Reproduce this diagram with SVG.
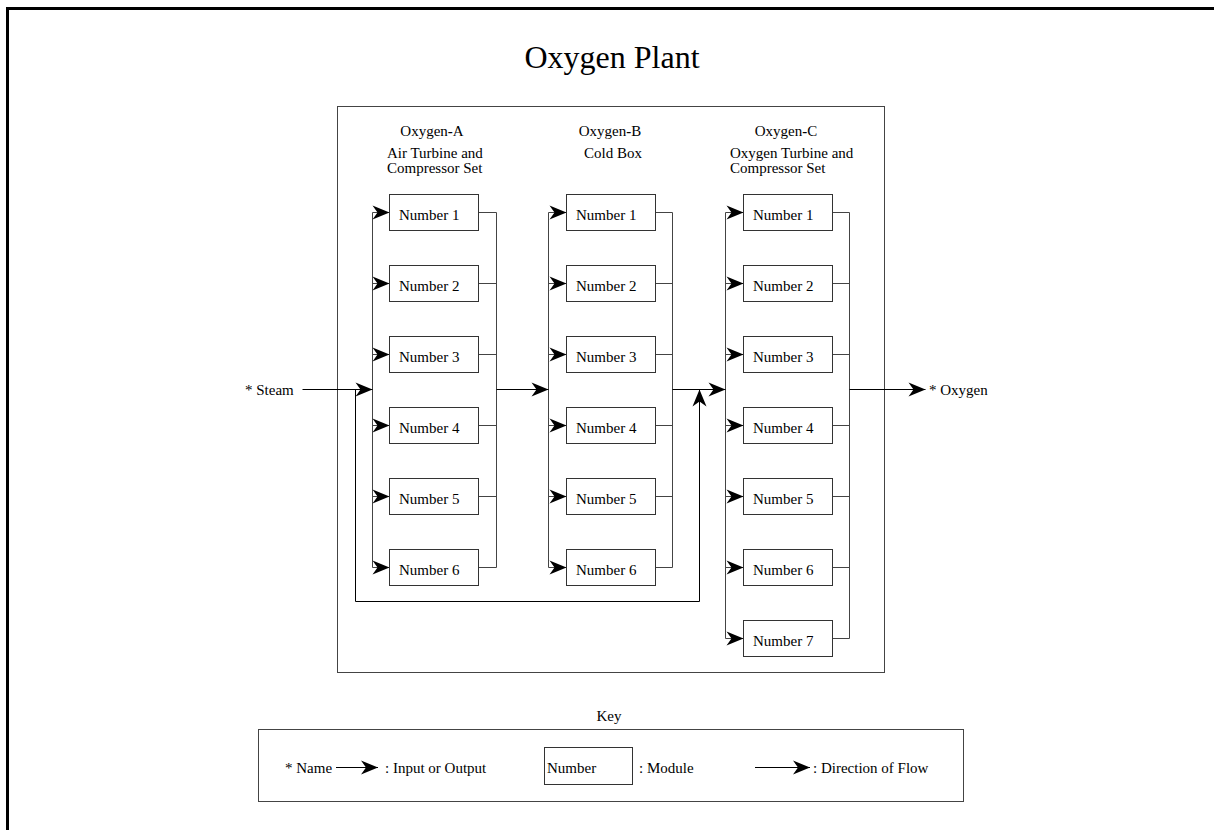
<svg xmlns="http://www.w3.org/2000/svg" width="1214" height="830" viewBox="0 0 1214 830">
<style>
text{font-family:"Liberation Serif","Times New Roman",serif;fill:#000;}
.t15{font-size:15px;}
.title{font-size:32px;}
.box{fill:#fff;stroke:#333;stroke-width:1;}
.bus{fill:none;stroke:#444;stroke-width:1;}
.flow{fill:none;stroke:#000;stroke-width:1;}
.frame{fill:none;stroke:#444;stroke-width:1;}
</style>
<defs>
<marker id="ah" markerUnits="userSpaceOnUse" markerWidth="18" markerHeight="16" viewBox="-18 -8 18 16" refX="0" refY="0" orient="auto">
<path d="M0,0 L-17,-7 L-12,0 L-17,7 Z" fill="#000"/>
</marker>
</defs>
<rect x="0" y="0" width="1214" height="830" fill="#fff"/>
<rect x="7.5" y="8.5" width="1230" height="850" fill="none" stroke="#000" stroke-width="3"/>
<text class="title" x="612" y="68" text-anchor="middle">Oxygen Plant</text>

<g id="plant" transform="translate(0.5,0.5)">
<rect class="frame" x="337" y="106" width="547" height="566"/>
</g>

<g id="headers" class="t15">
<text x="432" y="136" text-anchor="middle">Oxygen<tspan font-weight="bold">-</tspan>A</text>
<text x="387" y="158">Air Turbine and</text>
<text x="387" y="173">Compressor Set</text>
<text x="610" y="136" text-anchor="middle">Oxygen<tspan font-weight="bold">-</tspan>B</text>
<text x="613" y="158" text-anchor="middle">Cold Box</text>
<text x="786" y="136" text-anchor="middle">Oxygen<tspan font-weight="bold">-</tspan>C</text>
<text x="730" y="158">Oxygen Turbine and</text>
<text x="730" y="173">Compressor Set</text>
</g>

<g id="connectors" transform="translate(0.5,0.5)">
<!-- Column A -->
<path class="bus" d="M372,212 V567 M496,212 V567 M478,212 H496 M478,283 H496 M478,354 H496 M478,425 H496 M478,496 H496 M478,567 H496"/>
<path class="bus" marker-end="url(#ah)" d="M372,212 H389"/>
<path class="bus" marker-end="url(#ah)" d="M372,283 H389"/>
<path class="bus" marker-end="url(#ah)" d="M372,354 H389"/>
<path class="bus" marker-end="url(#ah)" d="M372,425 H389"/>
<path class="bus" marker-end="url(#ah)" d="M372,496 H389"/>
<path class="bus" marker-end="url(#ah)" d="M372,567 H389"/>
<!-- Column B -->
<path class="bus" d="M548,212 V567 M672,212 V567 M655,212 H672 M655,283 H672 M655,354 H672 M655,425 H672 M655,496 H672 M655,567 H672"/>
<path class="bus" marker-end="url(#ah)" d="M548,212 H566"/>
<path class="bus" marker-end="url(#ah)" d="M548,283 H566"/>
<path class="bus" marker-end="url(#ah)" d="M548,354 H566"/>
<path class="bus" marker-end="url(#ah)" d="M548,425 H566"/>
<path class="bus" marker-end="url(#ah)" d="M548,496 H566"/>
<path class="bus" marker-end="url(#ah)" d="M548,567 H566"/>
<!-- Column C -->
<path class="bus" d="M725,212 V638 M849,212 V638 M832,212 H849 M832,283 H849 M832,354 H849 M832,425 H849 M832,496 H849 M832,567 H849 M832,638 H849"/>
<path class="bus" marker-end="url(#ah)" d="M725,212 H743"/>
<path class="bus" marker-end="url(#ah)" d="M725,283 H743"/>
<path class="bus" marker-end="url(#ah)" d="M725,354 H743"/>
<path class="bus" marker-end="url(#ah)" d="M725,425 H743"/>
<path class="bus" marker-end="url(#ah)" d="M725,496 H743"/>
<path class="bus" marker-end="url(#ah)" d="M725,567 H743"/>
<path class="bus" marker-end="url(#ah)" d="M725,638 H743"/>
<!-- flows -->
<path class="flow" marker-end="url(#ah)" d="M302,389 H372"/>
<path class="flow" marker-end="url(#ah)" d="M355,389 V601 H699 V389"/>
<path class="flow" marker-end="url(#ah)" d="M496,389 H548"/>
<path class="flow" marker-end="url(#ah)" d="M672,389 H725"/>
<path class="flow" marker-end="url(#ah)" d="M849,389 H925"/>
</g>

<g id="io-labels" class="t15">
<text x="245" y="395">* Steam</text>
<text x="929" y="395">* Oxygen</text>
</g>

<g id="oxygen-a">
<g id="a1"><rect class="box" x="389.5" y="194.5" width="89" height="36"/><text class="t15" x="399" y="220">Number 1</text></g>
<g id="a2"><rect class="box" x="389.5" y="265.5" width="89" height="36"/><text class="t15" x="399" y="291">Number 2</text></g>
<g id="a3"><rect class="box" x="389.5" y="336.5" width="89" height="36"/><text class="t15" x="399" y="362">Number 3</text></g>
<g id="a4"><rect class="box" x="389.5" y="407.5" width="89" height="36"/><text class="t15" x="399" y="433">Number 4</text></g>
<g id="a5"><rect class="box" x="389.5" y="478.5" width="89" height="36"/><text class="t15" x="399" y="504">Number 5</text></g>
<g id="a6"><rect class="box" x="389.5" y="549.5" width="89" height="36"/><text class="t15" x="399" y="575">Number 6</text></g>
</g>

<g id="oxygen-b">
<g id="b1"><rect class="box" x="566.5" y="194.5" width="89" height="36"/><text class="t15" x="576" y="220">Number 1</text></g>
<g id="b2"><rect class="box" x="566.5" y="265.5" width="89" height="36"/><text class="t15" x="576" y="291">Number 2</text></g>
<g id="b3"><rect class="box" x="566.5" y="336.5" width="89" height="36"/><text class="t15" x="576" y="362">Number 3</text></g>
<g id="b4"><rect class="box" x="566.5" y="407.5" width="89" height="36"/><text class="t15" x="576" y="433">Number 4</text></g>
<g id="b5"><rect class="box" x="566.5" y="478.5" width="89" height="36"/><text class="t15" x="576" y="504">Number 5</text></g>
<g id="b6"><rect class="box" x="566.5" y="549.5" width="89" height="36"/><text class="t15" x="576" y="575">Number 6</text></g>
</g>

<g id="oxygen-c">
<g id="c1"><rect class="box" x="743.5" y="194.5" width="89" height="36"/><text class="t15" x="753" y="220">Number 1</text></g>
<g id="c2"><rect class="box" x="743.5" y="265.5" width="89" height="36"/><text class="t15" x="753" y="291">Number 2</text></g>
<g id="c3"><rect class="box" x="743.5" y="336.5" width="89" height="36"/><text class="t15" x="753" y="362">Number 3</text></g>
<g id="c4"><rect class="box" x="743.5" y="407.5" width="89" height="36"/><text class="t15" x="753" y="433">Number 4</text></g>
<g id="c5"><rect class="box" x="743.5" y="478.5" width="89" height="36"/><text class="t15" x="753" y="504">Number 5</text></g>
<g id="c6"><rect class="box" x="743.5" y="549.5" width="89" height="36"/><text class="t15" x="753" y="575">Number 6</text></g>
<g id="c7"><rect class="box" x="743.5" y="620.5" width="89" height="36"/><text class="t15" x="753" y="646">Number 7</text></g>
</g>

<g id="key">
<text class="t15" x="609" y="721" text-anchor="middle">Key</text>
<rect class="frame" x="258.5" y="729.5" width="705" height="72"/>
<text class="t15" x="285" y="773">* Name</text>
<path class="flow" marker-end="url(#ah)" d="M336,767.5 H378"/>
<text class="t15" x="385" y="773">: Input or Output</text>
<rect class="box" x="544.5" y="747.5" width="88" height="37"/>
<text class="t15" x="547" y="773">Number</text>
<text class="t15" x="639" y="773">: Module</text>
<path class="flow" marker-end="url(#ah)" d="M755,767.5 H810"/>
<text class="t15" x="813" y="773">: Direction of Flow</text>
</g>
</svg>
